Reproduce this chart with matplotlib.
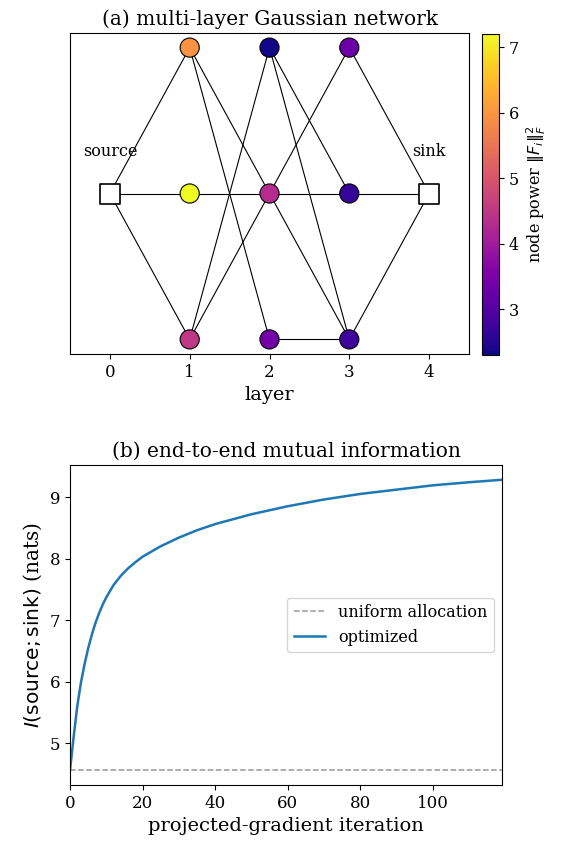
import numpy as np
import matplotlib
matplotlib.use("Agg")
import matplotlib.pyplot as plt

plt.rcParams['font.family'] = ['DejaVu Serif']
plt.rcParams['mathtext.fontset'] = 'dejavusans'

# network: (layer, row) for each relay node, and its power
node_layer = [1, 1, 1, 2, 2, 2, 3, 3, 3]
node_row = [1, 0, -1, 1, 0, -1, 1, 0, -1]
node_power = [5.95, 7.2, 4.5, 2.32, 4.3, 3.4, 3.3, 2.65, 2.75]

# edges between (layer, row) endpoints
edges = [
    ((0, 0), (1, 1)), ((0, 0), (1, 0)), ((0, 0), (1, -1)),
    ((1, 1), (2, 0)), ((1, 1), (2, -1)),
    ((1, 0), (2, 0)),
    ((1, -1), (2, 1)), ((1, -1), (2, 0)),
    ((2, 1), (3, 0)), ((2, 1), (3, -1)),
    ((2, 0), (3, 1)), ((2, 0), (3, 0)), ((2, 0), (3, -1)),
    ((2, -1), (3, -1)),
    ((3, 1), (4, 0)), ((3, 0), (4, 0)), ((3, -1), (4, 0)),
]
terminal_layer = [0, 4]
terminal_row = [0, 0]
terminal_names = ["source", "sink"]

# mutual information over projected-gradient iterations
iters = [0, 1, 2, 3, 4, 5, 6, 7, 8, 9, 10, 12, 14, 16, 18, 20, 25, 30, 35,
         40, 50, 60, 70, 80, 90, 100, 110, 119]
mi_opt = [4.56, 5.10, 5.60, 5.98, 6.28, 6.54, 6.76, 6.95, 7.11, 7.25, 7.37,
          7.57, 7.72, 7.84, 7.94, 8.03, 8.20, 8.34, 8.46, 8.56, 8.72, 8.85,
          8.96, 9.05, 9.12, 9.19, 9.24, 9.28]
mi_uniform = 4.557

W, H = 563, 852
fig = plt.figure(figsize=(W / 100, H / 100), dpi=100)
fig.patch.set_facecolor('white')

# ---- (a) network ----
ax1 = fig.add_axes([70 / W, 1 - 354 / H, 399 / W, 321 / H])
for (a, b) in edges:
    ax1.plot([a[0], b[0]], [a[1], b[1]], color='black', lw=0.8, zorder=1)

sc = ax1.scatter(node_layer, node_row, c=node_power, cmap='plasma',
                 vmin=2.3, vmax=7.2, s=190, edgecolors='black',
                 linewidths=0.8, zorder=3)
ax1.scatter(terminal_layer, terminal_row, marker='s', s=210, c='white',
            edgecolors='black', linewidths=1.2, zorder=3)
for x, y, name in zip(terminal_layer, terminal_row, terminal_names):
    ax1.text(x, y + 0.29, name, ha='center', va='center', fontsize=11.5)

ax1.set_xlim(-0.5, 4.5)
ax1.set_ylim(-1.1, 1.1)
ax1.set_xticks([0, 1, 2, 3, 4])
ax1.set_yticks([])
ax1.tick_params(labelsize=12)
ax1.set_xlabel('layer', fontsize=14)
ax1.set_title('(a) multi-layer Gaussian network', fontsize=14.5)

cax = fig.add_axes([482 / W, 1 - 355 / H, 17 / W, 321 / H])
cb = fig.colorbar(sc, cax=cax)
cb.set_label(r'node power $\|F_i\|_F^2$', fontsize=11.5)
cb.ax.tick_params(labelsize=11.5)

# ---- (b) mutual information ----
ax2 = fig.add_axes([70 / W, 1 - 785 / H, 432 / W, 320 / H])
ax2.axhline(mi_uniform, color='#999999', ls='--', lw=1.1,
            label='uniform allocation')
ax2.plot(iters, mi_opt, color='#1f77b4', lw=1.8, label='optimized')
ax2.set_xlim(0, 119)
ax2.set_ylim(4.32, 9.52)
ax2.set_xticks([0, 20, 40, 60, 80, 100])
ax2.set_yticks([5, 6, 7, 8, 9])
ax2.tick_params(labelsize=12)
ax2.set_xlabel('projected-gradient iteration', fontsize=14)
ax2.set_ylabel(r'$I(\mathrm{source};\mathrm{sink})$ (nats)', fontsize=14.5)
ax2.set_title('(b) end-to-end mutual information', fontsize=14.5)
ax2.legend(loc='center right', fontsize=11.5)

fig.savefig('out.png', dpi=100, facecolor='white')
